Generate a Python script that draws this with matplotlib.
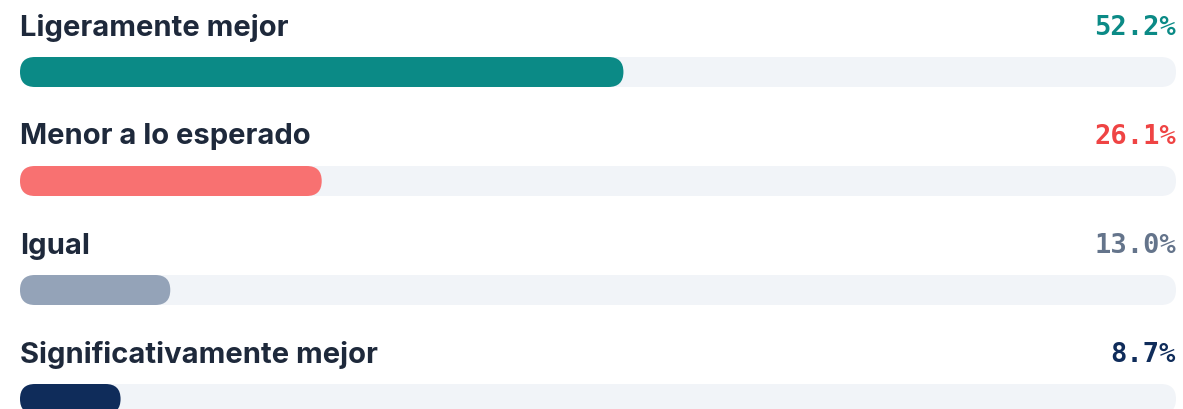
import matplotlib
matplotlib.use("Agg")
import matplotlib.pyplot as plt
from matplotlib.patches import FancyBboxPatch

categories = ["Ligeramente mejor", "Menor a lo esperado", "Igual", "Significativamente mejor"]
values = [52.2, 26.1, 13.0, 8.7]
value_labels = ["52.2%", "26.1%", "13.0%", "8.7%"]
colors = ["#0B8A86", "#F87171", "#94A3B8", "#0F2C5A"]
text_colors = ["#0B8A86", "#EF4444", "#64748B", "#0F2C5A"]

W, H = 1183, 409
fig = plt.figure(figsize=(W / 100, H / 100), dpi=100)
ax = fig.add_axes([0, 0, 1, 1])

# pixel mapping
x0_px, x1_px = 20, 1176
px_per_x = (x1_px - x0_px) / 100.0
row0_px, row_step = 72, 109
ax.set_xlim(-x0_px / px_per_x, (W - x0_px) / px_per_x)
ax.set_ylim((H - row0_px) / row_step, -row0_px / row_step)
ax.axis("off")

bar_h = 30 / row_step
r_x = 15 / px_per_x
aspect = px_per_x / row_step
label_off = 44 / row_step

for i, (cat, v, c, tc, lab) in enumerate(zip(categories, values, colors, text_colors, value_labels)):
    track = FancyBboxPatch((0, i - bar_h / 2), 100, bar_h,
                           boxstyle=f"round,pad=0,rounding_size={r_x}",
                           mutation_aspect=aspect, fc="#F1F4F8", ec="none")
    ax.add_patch(track)
    bar = FancyBboxPatch((0, i - bar_h / 2), v, bar_h,
                         boxstyle=f"round,pad=0,rounding_size={r_x}",
                         mutation_aspect=aspect, fc=c, ec="none")
    ax.add_patch(bar)
    ax.text(0, i - label_off, cat, ha="left", va="center", fontsize=21,
            fontweight="bold", family="Inter", color="#1E293B")
    ax.text(100, i - label_off, lab, ha="right", va="center", fontsize=19.5,
            fontweight="bold", family="DejaVu Sans Mono", color=tc)

fig.savefig("out.png", dpi=100)
